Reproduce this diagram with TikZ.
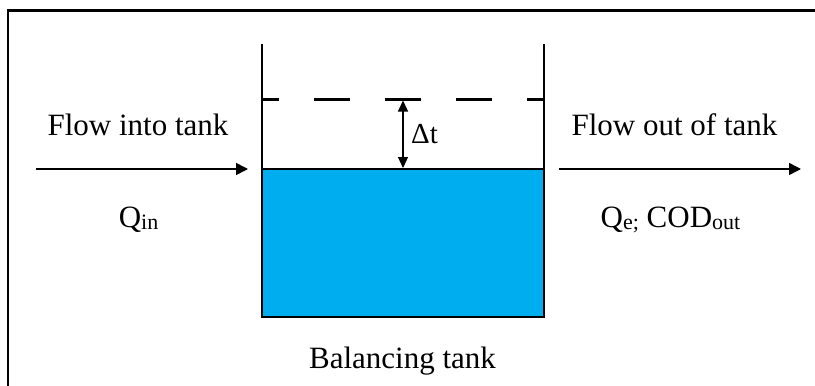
\documentclass[tikz,border=0pt]{standalone}
\usepackage{fontspec}
\setmainfont{Liberation Serif}
\usetikzlibrary{arrows.meta}
\definecolor{water}{RGB}{0,174,239}
\tikzset{
  lbl/.style={inner sep=0pt, anchor=base, font=\fontsize{31}{36}\selectfont},
  flowarrow/.style={line width=1.5pt, -{Triangle[length=12pt,width=12pt]}},
  wall/.style={line width=2.5pt},
  levelarrow/.style={line width=1.2pt, {Triangle[length=11pt,width=10pt]}-{Triangle[length=11pt,width=10pt]}},
}
\newcommand{\sbs}[1]{\raisebox{-2pt}{\fontsize{22}{24}\selectfont #1}}
\begin{document}
\begin{tikzpicture}[x=1pt,y=-1pt]
\useasboundingbox (0,0) rectangle (815,386);
\clip (0,0) rectangle (815,386);
% outer frame (extends beyond right and bottom edges)
\draw[line width=2.5pt] (8,400) -- (8,10.7) -- (830,10.7);
% water
\fill[water] (262,169) rectangle (544,317);
% tank
\draw[wall] (262,44) -- (262,317) -- (544,317) -- (544,44);
\draw[line width=2pt] (262,169) -- (544,169);
% dashed level
\draw[line width=3pt, dash pattern=on 36pt off 35pt, dash phase=19pt] (262,99) -- (544,99);
% coordinates
\coordinate (top) at (403,100.5);
\coordinate (surf) at (403,168);
\coordinate (inA) at (36,169);
\coordinate (inB) at (248,169);
\coordinate (outA) at (559,169);
\coordinate (outB) at (801,169);
\draw[levelarrow] (top) -- (surf);
\draw[flowarrow] (inA) -- (inB);
\draw[flowarrow] (outA) -- (outB);
% labels
\node[lbl] (flowin) at (138,135) {Flow into tank};
\node[lbl] (flowout) at (674.5,135) {Flow out of tank};
\node[lbl] (qin) at (138.5,227) {Q\sbs{in}};
\node[lbl] (qout) at (670.5,227) {Q\sbs{e;} COD\sbs{out}};
\node[lbl] (tank) at (402.5,368) {Balancing tank};
\node[lbl, anchor=base west, font=\fontsize{29}{32}\selectfont] (dt) at (411,143) {Δt};
\end{tikzpicture}
\end{document}
